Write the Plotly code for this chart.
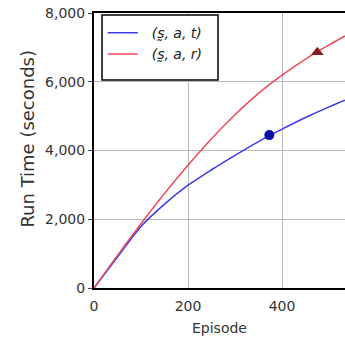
import plotly.graph_objects as go

episodes = [0, 50, 100, 150, 200, 250, 300, 350, 400, 450, 500, 534]
run_time_sat = [0, 900, 1790, 2440, 2990, 3440, 3860, 4260, 4620, 4960, 5270, 5465]
run_time_sar = [0, 950, 1870, 2750, 3570, 4340, 5040, 5660, 6190, 6660, 7070, 7330]

marker_sat_x = [373]
marker_sat_y = [4448]
marker_sar_x = [475]
marker_sar_y = [6860]

x_ticks = [0, 200, 400, 600]
y_ticks = [0, 2000, 4000, 6000, 8000]

FONT = "DejaVu Sans"

fig = go.Figure()
fig.add_trace(go.Scatter(x=episodes, y=run_time_sat, mode="lines",
                         name="  <i>(s̰, a, t)</i>",
                         line=dict(color="#3a3ae6", width=1.5, shape="spline", smoothing=0.8)))
fig.add_trace(go.Scatter(x=episodes, y=run_time_sar, mode="lines",
                         name="  <i>(s̰, a, r)</i>",
                         line=dict(color="#ee4a5a", width=1.5, shape="spline", smoothing=0.8)))
fig.add_trace(go.Scatter(x=marker_sat_x, y=marker_sat_y, mode="markers",
                         showlegend=False,
                         marker=dict(symbol="circle", size=10, color="#0c0ca8")))
fig.add_trace(go.Scatter(x=marker_sar_x, y=marker_sar_y, mode="markers",
                         showlegend=False,
                         marker=dict(symbol="triangle-up", size=11, color="#8a1a22")))

# legend frame (paper coordinates)
fig.add_shape(type="rect", xref="paper", yref="paper",
              x0=0.032, x1=0.494, y0=0.756, y1=0.993,
              fillcolor="white", line=dict(color="black", width=1.5),
              layer="above")

fig.update_layout(
    width=345, height=342,
    margin=dict(l=94, r=0, t=13, b=54),
    paper_bgcolor="white", plot_bgcolor="white",
    font=dict(family=FONT, size=14, color="#333333"),
    showlegend=True,
    legend=dict(x=0.035, y=0.985, xanchor="left", yanchor="top",
                bgcolor="rgba(0,0,0,0)", borderwidth=0,
                font=dict(family=FONT, size=14, color="#222222")),
    xaxis=dict(range=[0, 534], tickvals=x_ticks, tickformat=",d",
               showgrid=True, gridcolor="#b8b8b8", gridwidth=1,
               showline=True, linecolor="black", linewidth=2, mirror=True,
               ticks="", zeroline=False, ticklabelstandoff=4,
               title=dict(text="Episode", font=dict(size=14), standoff=10)),
    yaxis=dict(range=[0, 8000], tickvals=y_ticks, tickformat=",d",
               showgrid=True, gridcolor="#b8b8b8", gridwidth=1,
               showline=True, linecolor="black", linewidth=2,
               ticks="outside", ticklen=4, tickcolor="#444444",
               zeroline=False),
    annotations=[dict(text="Run Time (seconds)", textangle=-90,
                      xref="paper", yref="paper", x=-0.265, y=0.545,
                      xanchor="center", yanchor="middle", showarrow=False,
                      font=dict(family=FONT, size=18, color="#333333"))],
)

fig.write_html("out.html")
